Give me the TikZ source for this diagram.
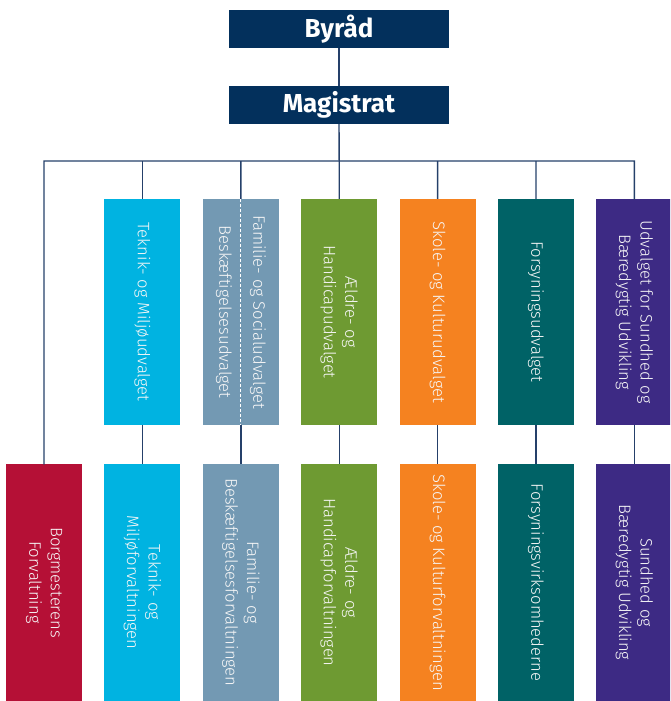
\documentclass[tikz,border=0pt]{standalone}
\usepackage{fontspec}
\setmainfont{Fira Sans}
\newfontfamily\lightf{Fira Sans Light}
\definecolor{navy}{HTML}{03305C}
\definecolor{linec}{HTML}{25406A}
\definecolor{ctek}{HTML}{00B3E1}
\definecolor{cfam}{HTML}{7399B3}
\definecolor{cald}{HTML}{6E9A32}
\definecolor{csko}{HTML}{F58220}
\definecolor{cfor}{HTML}{006266}
\definecolor{csun}{HTML}{3D2A84}
\definecolor{cbor}{HTML}{B51036}
\begin{document}
\begin{tikzpicture}[x=1pt,y=-1pt,
  top/.style={fill=navy,minimum width=220pt,minimum height=38pt,inner sep=0pt,text=white,font=\fontsize{26}{30}\selectfont\bfseries},
  com/.style={minimum width=76pt,minimum height=226pt,inner sep=0pt},
  bot/.style={minimum width=76pt,minimum height=237pt,inner sep=0pt},
  txt/.style={rotate=-90,text=white!94!gray,align=center,inner sep=0pt,font=\lightf\fontsize{16.6}{21.5}\selectfont},
  conn/.style={draw=linec,line width=1.4pt}]
\useasboundingbox (0,0) rectangle (670,701);
\clip (0,0) rectangle (670,701);
% top
\node[top] (by) at (339,29) {Byråd};
\node[top] (mag) at (339,105) {Magistrat};
% bus coordinates
\foreach \k/\n in {0/b0,1/b1,2/b2,3/b3,4/b4,5/b5,6/b6}{
  \coordinate (\n) at (44+98.4*\k,161);
}
% committees
\node[com,fill=ctek] (c1) at (142.4,312) {};
\node[com,fill=cfam] (c2) at (240.8,312) {};
\node[com,fill=cald] (c3) at (339.2,312) {};
\node[com,fill=csko] (c4) at (437.6,312) {};
\node[com,fill=cfor] (c5) at (536,312) {};
\node[com,fill=csun] (c6) at (634.4,312) {};
% bottom row
\node[bot,fill=cbor] (d0) at (44,582.5) {};
\node[bot,fill=ctek] (d1) at (142.4,582.5) {};
\node[bot,fill=cfam] (d2) at (240.8,582.5) {};
\node[bot,fill=cald] (d3) at (339.2,582.5) {};
\node[bot,fill=csko] (d4) at (437.6,582.5) {};
\node[bot,fill=cfor] (d5) at (536,582.5) {};
\node[bot,fill=csun] (d6) at (634.4,582.5) {};
% dashed divider in Familie committee
\draw[white,line width=1.3pt,dash pattern=on 3pt off 2pt] (c2.north) -- (c2.south);
% committee texts
\node[txt] (t1) at (c1) {Teknik- og Miljøudvalget};
\node[txt] (t2a) at (258,312) {Familie- og Socialudvalget};
\node[txt] (t2b) at (224,312) {Beskæftigelsesudvalget};
\node[txt] (t3) at (c3) {Ældre- og\\Handicapudvalget};
\node[txt] (t4) at (c4) {Skole- og Kulturudvalget};
\node[txt] (t5) at (c5) {Forsyningsudvalget};
\node[txt] (t6) at (c6) {Udvalget for Sundhed og\\Bæredygtig Udvikling};
% bottom texts
\node[txt] (u0) at (d0) {Borgmesterens\\Forvaltning};
\node[txt] (u1) at (d1) {Teknik- og\\Miljøforvaltningen};
\node[txt] (u2) at (d2) {Familie- og\\Beskæftigelsesforvaltningen};
\node[txt] (u3) at (d3) {Ældre- og\\Handicapforvaltningen};
\node[txt] (u4) at (d4) {Skole- og Kulturforvaltningen};
\node[txt] (u5) at (d5) {Forsyningsvirksomhederne};
\node[txt] (u6) at (d6) {Sundhed og\\Bæredygtig Udvikling};
% connectors
\draw[conn] (by.south) -- (mag.north);
\draw[conn] (mag.south) -- (b3);
\draw[conn,line cap=rect] (d0.north) -- (b0) -- (b6) -- (c6.north);
\foreach \i in {1,...,5}{
  \draw[conn] (b\i) -- (c\i.north);
}
\foreach \i in {1,...,6}{
  \draw[conn] (c\i.south) -- (d\i.north);
}
\end{tikzpicture}
\end{document}
